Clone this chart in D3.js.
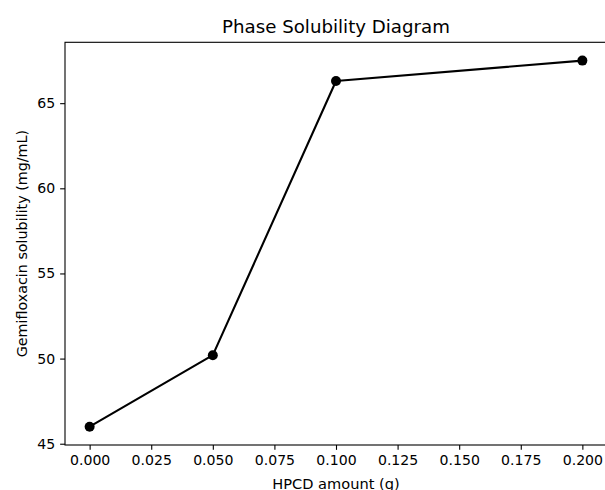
<!DOCTYPE html>
<html>
<head>
<meta charset="utf-8">
<script src="https://cdn.jsdelivr.net/npm/d3@7"></script>
<style>
  body { margin: 0; background: #fff; }
  text { font-family: "DejaVu Sans", sans-serif; fill: #000; }
</style>
</head>
<body>
<div id="chart"></div>
<script>
// data
var hpcdAmount = [0.0, 0.05, 0.1, 0.2];
var solubility = [46.0, 50.2, 66.3, 67.5];
var xTicks = [0, 0.025, 0.05, 0.075, 0.1, 0.125, 0.15, 0.175, 0.2];
var yTicks = [45, 50, 55, 60, 65];

var W = 605, H = 490;
var plotLeft = 65, plotRight = 607, plotTop = 42.3, plotBottom = 445;
var tickLen = 4.86, tickPad = 4.86;

var svg = d3.select("#chart")
  .append("svg")
    .attr("width", W)
    .attr("height", H);

// matplotlib-like 5% margins
var xMin = d3.min(hpcdAmount), xMax = d3.max(hpcdAmount);
var yMin = d3.min(solubility), yMax = d3.max(solubility);
var xm = (xMax - xMin) * 0.05, ym = (yMax - yMin) * 0.05;

var x = d3.scaleLinear()
  .domain([xMin - xm, xMax + xm])
  .range([plotLeft, plotRight]);
var y = d3.scaleLinear()
  .domain([yMin - ym, yMax + ym])
  .range([plotBottom, plotTop]);

// X axis
var gx = svg.append("g")
  .attr("transform", "translate(0," + plotBottom + ")")
  .call(d3.axisBottom(x)
    .tickValues(xTicks)
    .tickFormat(d3.format(".3f"))
    .tickSize(tickLen)
    .tickPadding(tickPad)
    .tickSizeOuter(0));
gx.select(".domain").remove();
gx.selectAll("line").attr("stroke", "#000").attr("stroke-width", 1.1);
gx.selectAll("text")
  .style("font-size", "14.1px")
  .style("font-family", "DejaVu Sans, sans-serif")
  .attr("fill", "#000");

// Y axis
var gy = svg.append("g")
  .attr("transform", "translate(" + plotLeft + ",0)")
  .call(d3.axisLeft(y)
    .tickValues(yTicks)
    .tickSize(tickLen)
    .tickPadding(tickPad)
    .tickSizeOuter(0));
gy.select(".domain").remove();
gy.selectAll("line").attr("stroke", "#000").attr("stroke-width", 1.1);
gy.selectAll("text")
  .style("font-size", "14.1px")
  .style("font-family", "DejaVu Sans, sans-serif")
  .attr("fill", "#000");

// spines
svg.append("rect")
  .attr("x", plotLeft)
  .attr("y", plotTop)
  .attr("width", plotRight - plotLeft)
  .attr("height", plotBottom - plotTop)
  .attr("fill", "none")
  .attr("stroke", "#000")
  .attr("stroke-width", 1.1);

var pts = hpcdAmount.map(function(d, i) { return { x: d, y: solubility[i] }; });

// line
svg.append("path")
  .datum(pts)
  .attr("fill", "none")
  .attr("stroke", "#000")
  .attr("stroke-width", 2.1)
  .attr("stroke-linejoin", "round")
  .attr("d", d3.line()
    .x(function(d) { return x(d.x); })
    .y(function(d) { return y(d.y); }));

// markers
svg.append("g")
  .selectAll("circle")
  .data(pts)
  .enter()
  .append("circle")
    .attr("cx", function(d) { return x(d.x); })
    .attr("cy", function(d) { return y(d.y); })
    .attr("r", 5)
    .attr("fill", "#000");

// title
svg.append("text")
  .attr("x", (plotLeft + plotRight) / 2)
  .attr("y", 32.5)
  .attr("text-anchor", "middle")
  .style("font-size", "18.2px")
  .text("Phase Solubility Diagram");

// x label
svg.append("text")
  .attr("x", (plotLeft + plotRight) / 2)
  .attr("y", 489)
  .attr("text-anchor", "middle")
  .style("font-size", "14.6px")
  .text("HPCD amount (g)");

// y label
svg.append("text")
  .attr("transform", "translate(27," + ((plotTop + plotBottom) / 2) + ") rotate(-90)")
  .attr("text-anchor", "middle")
  .style("font-size", "14.3px")
  .text("Gemifloxacin solubility (mg/mL)");
</script>
</body>
</html>
